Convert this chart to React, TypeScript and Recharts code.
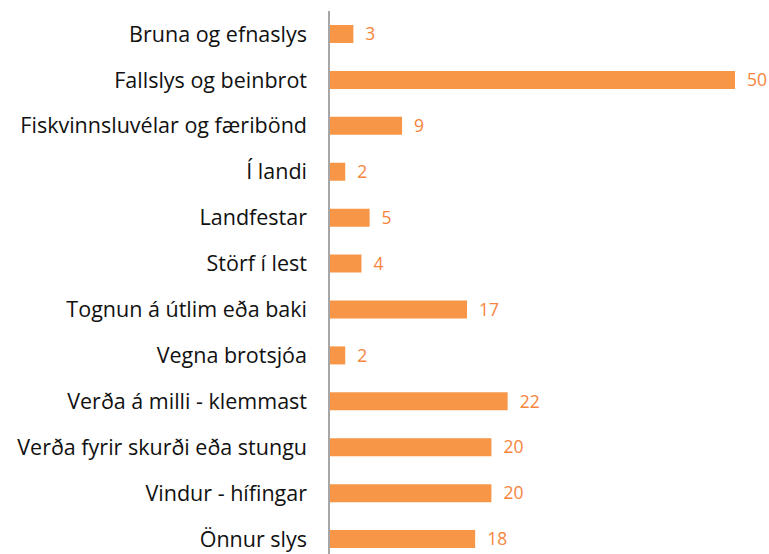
import { Bar, BarChart, LabelList, XAxis, YAxis } from "recharts";

const CATEGORIES = [
  "Bruna og efnaslys",
  "Fallslys og beinbrot",
  "Fiskvinnsluvélar og færibönd",
  "Í landi",
  "Landfestar",
  "Störf í lest",
  "Tognun á útlim eða baki",
  "Vegna brotsjóa",
  "Verða á milli - klemmast",
  "Verða fyrir skurði eða stungu",
  "Vindur - hífingar",
  "Önnur slys",
];

const COUNTS = [3, 50, 9, 2, 5, 4, 17, 2, 22, 20, 20, 18];

const BAR_COLOR = "#F79646";
const LABEL_COLOR = "#F7843C";
const FONT = "'Open Sans', Lato, sans-serif";

const data = CATEGORIES.map((name, i) => ({ name, value: COUNTS[i] }));

export default function App() {
  return (
    <div
      style={{
        position: "fixed",
        left: 0,
        top: 0,
        width: 769,
        height: 554,
        overflow: "hidden",
        background: "#fff",
        fontFamily: FONT,
      }}
    >
      <BarChart
        width={769}
        height={570}
        data={data}
        layout="vertical"
        margin={{ top: 11, right: 34, left: 0, bottom: 8 }}
      >
        <XAxis type="number" domain={[0, 50]} hide />
        <YAxis
          dataKey="name"
          type="category"
          width={329}
          axisLine={{ stroke: "#A6A6A6", strokeWidth: 2 }}
          tickLine={false}
          tickMargin={16}
          interval={0}
          tick={{ fontSize: 21.5, fill: "#111111", fontFamily: FONT }}
        />
        <Bar dataKey="value" fill={BAR_COLOR} barSize={18} isAnimationActive={false}>
          <LabelList
            dataKey="value"
            position="right"
            offset={12}
            style={{ fontSize: 17.5, fill: LABEL_COLOR, fontFamily: FONT }}
          />
        </Bar>
      </BarChart>
    </div>
  );
}
